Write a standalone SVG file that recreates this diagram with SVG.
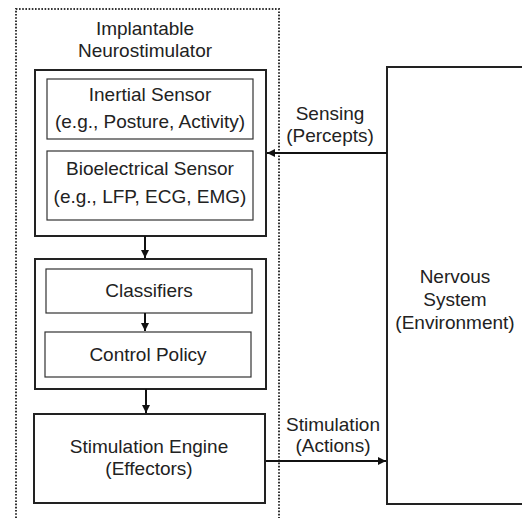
<svg xmlns="http://www.w3.org/2000/svg" width="522" height="518" viewBox="0 0 522 518">
  <defs>
    <marker id="arrow" viewBox="0 0 10 10" refX="10" refY="5" markerWidth="4" markerHeight="4" orient="auto" markerUnits="strokeWidth">
      <path d="M0,0 L10,5 L0,10 z" fill="#111"/>
    </marker>
    <style>
      text { font-family: "Liberation Sans", Arial, sans-serif; font-size: 19px; fill: #222; text-anchor: middle; }
      .outer { fill: none; stroke: #222; stroke-width: 2; }
      .inner { fill: #fff; stroke: #333; stroke-width: 1.2; }
      .dotted { fill: none; stroke: #333; stroke-width: 2; stroke-dasharray: 1.6 1.6; }
      .conn { fill: none; stroke: #111; stroke-width: 2; marker-end: url(#arrow); }
    </style>
  </defs>
  <rect width="522" height="518" fill="#fff"/>

  <!-- implant boundary (open at the bottom) -->
  <g id="implant">
    <path class="dotted" d="M16,518 V9 H279 V518"/>
    <text x="145" y="35">Implantable</text>
    <text x="145" y="57">Neurostimulator</text>
  </g>

  <!-- sensing block -->
  <g id="sensors">
    <rect class="outer" x="35" y="70" width="231" height="166"/>
    <g id="inertial">
      <rect class="inner" x="47" y="79" width="206" height="60"/>
      <text x="150" y="101">Inertial Sensor</text>
      <text x="150" y="128">(e.g., Posture, Activity)</text>
    </g>
    <g id="bioelectrical">
      <rect class="inner" x="47" y="151" width="206" height="69"/>
      <text x="150" y="175">Bioelectrical Sensor</text>
      <text x="150" y="203">(e.g., LFP, ECG, EMG)</text>
    </g>
  </g>

  <!-- decision block -->
  <g id="decision">
    <rect class="outer" x="35" y="259" width="231" height="130"/>
    <g id="classifiers">
      <rect class="inner" x="46" y="269" width="206" height="44"/>
      <text x="149" y="297">Classifiers</text>
    </g>
    <g id="policy">
      <rect class="inner" x="45" y="332" width="206" height="45"/>
      <text x="148" y="361">Control Policy</text>
    </g>
  </g>

  <!-- stimulation engine -->
  <g id="engine">
    <rect class="outer" x="34" y="414" width="231" height="89"/>
    <text x="149" y="453">Stimulation Engine</text>
    <text x="149" y="475">(Effectors)</text>
  </g>

  <!-- environment (open on the right) -->
  <g id="environment">
    <path class="outer" d="M522,67 H387 V504 H522"/>
    <text x="455" y="283">Nervous</text>
    <text x="455" y="306">System</text>
    <text x="455" y="329">(Environment)</text>
  </g>

  <!-- connectors -->
  <g id="connectors">
    <path class="conn" d="M145,236 V258"/>
    <path class="conn" d="M145,313 V331"/>
    <path class="conn" d="M146,389 V413"/>
    <path class="conn" d="M387,153 H267"/>
    <path class="conn" d="M266,461 H386"/>
    <text x="330" y="120">Sensing</text>
    <text x="330" y="142">(Percepts)</text>
    <text x="333" y="431">Stimulation</text>
    <text x="333" y="452">(Actions)</text>
  </g>
</svg>
